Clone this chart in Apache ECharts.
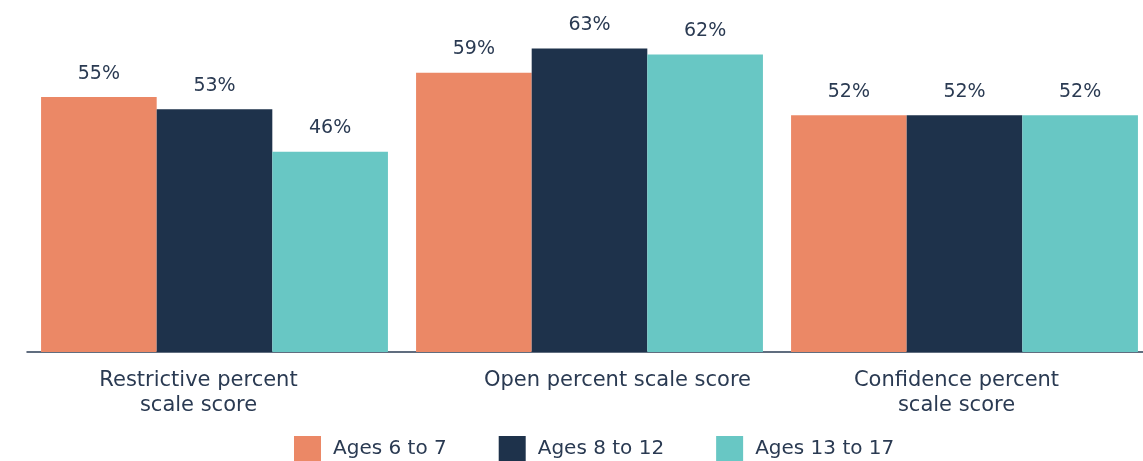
<!DOCTYPE html>
<html>
<head>
<meta charset="utf-8">
<script src="https://cdn.jsdelivr.net/npm/echarts@6/dist/echarts.min.js"></script>
<style>
  html, body { margin: 0; padding: 0; background: #fff; overflow: hidden; }
  #chart { width: 1152px; height: 461px; }
</style>
</head>
<body>
<div id="chart"></div>
<script>
const categories = ['Restrictive percent\nscale score', 'Open percent scale score', 'Confidence percent\nscale score']
const seriesNames = ['Ages 6 to 7', 'Ages 8 to 12', 'Ages 13 to 17']
const ages6to7 = [55, 59, 52]
const ages8to12 = [53, 63, 52]
const ages13to17 = [46, 62, 52]

const colors = ['#eb8866', '#1e324b', '#68c7c4']
const textColor = '#2a3a52'
const font = 'DejaVu Sans'

// small horizontal nudges for the category labels (they sit a bit off-centre in the original)
const labelShift = [-16, 28, -8]

const makeSeries = (name, data) => ({
  name: name,
  type: 'bar',
  data: data,
  barGap: 0,
  barCategoryGap: '7.5%',
  label: {
    show: true,
    position: 'top',
    distance: 14,
    formatter: '{c}%',
    color: textColor,
    fontSize: 19,
    fontFamily: font
  }
})

const rich = {}
labelShift.forEach((s, i) => {
  rich['c' + i] = {
    color: textColor,
    fontSize: 21,
    fontFamily: font,
    lineHeight: 25,
    padding: s < 0 ? [0, -2 * s, 0, 0] : [0, 0, 0, 2 * s]
  }
})

const option = {
  animation: false,
  color: colors,
  grid: {
    left: 27,
    right: 0,
    top: 0,
    bottom: 109,
    containLabel: false
  },
  legend: {
    data: seriesNames,
    top: 436,
    left: 294,
    padding: 0,
    itemWidth: 27,
    itemHeight: 26,
    itemGap: 52,
    icon: 'rect',
    textStyle: {
      color: textColor,
      fontSize: 20,
      fontFamily: font,
      padding: [0, 0, 0, 7]
    }
  },
  xAxis: {
    type: 'category',
    data: categories,
    axisTick: { show: false },
    axisLine: { lineStyle: { color: '#2d3e55', width: 1.5 } },
    axisLabel: {
      color: textColor,
      fontSize: 21,
      fontFamily: font,
      lineHeight: 25,
      margin: 16,
      interval: 0,
      formatter: (v, i) => v.split('\n').map(line => '{c' + i + '|' + line + '}').join('\n'),
      rich: rich
    }
  },
  yAxis: {
    type: 'value',
    min: 13,
    max: 71,
    show: false,
    splitLine: { show: false }
  },
  series: [
    makeSeries(seriesNames[0], ages6to7),
    makeSeries(seriesNames[1], ages8to12),
    makeSeries(seriesNames[2], ages13to17)
  ]
}

const myChart = echarts.init(document.getElementById('chart'), null, { renderer: 'canvas' })
myChart.setOption(option)
</script>
</body>
</html>
